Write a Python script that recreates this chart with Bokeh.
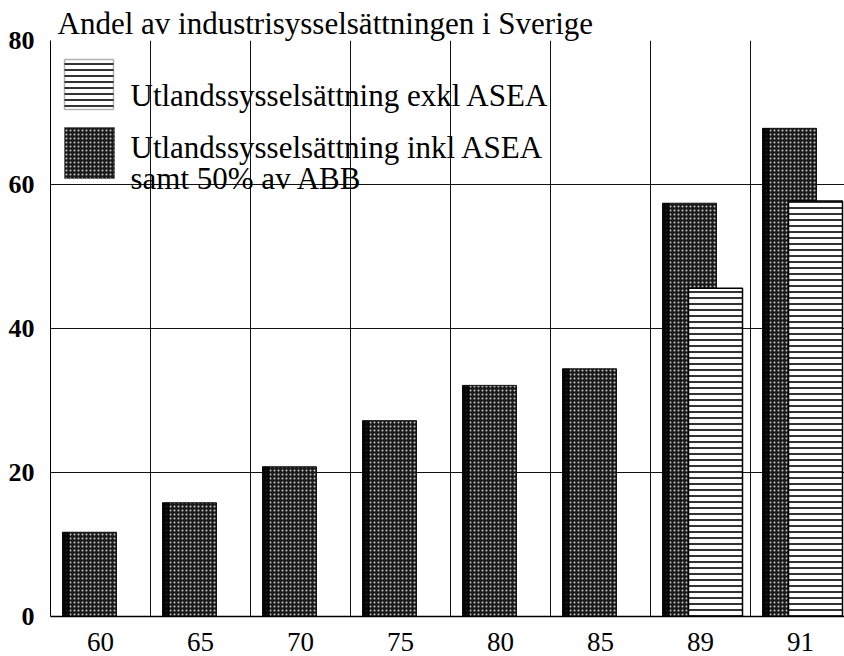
from bokeh.plotting import figure
from bokeh.models import ColumnDataSource, FixedTicker, Range1d, Label, BoxAnnotation
from bokeh.transform import dodge
from bokeh.embed import file_html
from bokeh.resources import INLINE

# ---- data ----
years = ["60", "65", "70", "75", "80", "85", "89", "91"]
inkl_asea = [11.7, 15.8, 20.8, 27.2, 32.1, 34.4, 57.4, 67.8]
exkl_years = ["89", "91"]
exkl_asea = [45.6, 57.7]
y_ticks = [0, 20, 40, 60, 80]

title_text = "Andel av industrisysselsättningen i Sverige"
label_exkl = "Utlandssysselsättning exkl ASEA"
label_inkl_1 = "Utlandssysselsättning inkl ASEA"
label_inkl_2 = "samt 50% av ABB"

# ---- layout / style ----
FONT = "Liberation Serif"
W, H = 844, 656
FRAME_H = 576

pos = {y: i + 0.5 for i, y in enumerate(years)}
src_inkl = ColumnDataSource(dict(x=[pos[y] for y in years], top=inkl_asea))
src_exkl = ColumnDataSource(dict(x=[pos[y] for y in exkl_years], top=exkl_asea))

p = figure(width=W, height=H, output_backend="svg", toolbar_location=None,
           x_range=Range1d(0, 7.94), y_range=Range1d(0, 80),
           min_border_left=50, min_border_right=0, min_border_top=40,
           min_border_bottom=40, title=title_text)
p.outline_line_color = None
p.background_fill_color = "white"

# title
p.title.text_font = FONT
p.title.text_font_size = "31px"
p.title.text_font_style = "normal"
p.title.text_color = "black"
p.title.align = "left"
p.title.offset = 7
p.title.standoff = 0

# dark bars (inkl ASEA)
p.vbar(x=dodge("x", -0.11), top="top", bottom=0, width=0.54, source=src_inkl,
       fill_color="#1a1a1a", line_color="#111111", line_width=1,
       hatch_pattern="dot", hatch_color="#c8c8c8", hatch_scale=4, hatch_weight=1)
# darker shading at left edge of the dark bars
p.vbar(x=dodge("x", -0.345), top="top", bottom=0, width=0.07, source=src_inkl,
       fill_color="black", fill_alpha=0.85, line_color=None)

# striped bars (exkl ASEA)
p.vbar(x=dodge("x", 0.15), top="top", bottom=0, width=0.54, source=src_exkl,
       fill_color="white", line_color="black", line_width=1.5,
       hatch_pattern="horizontal_line", hatch_color="black", hatch_scale=6,
       hatch_weight=1.6)

# axes
p.yaxis.ticker = FixedTicker(ticks=y_ticks)
p.yaxis.major_tick_line_color = None
p.yaxis.minor_tick_line_color = None
p.yaxis.axis_line_color = "black"
p.yaxis.axis_line_width = 1
p.yaxis.major_label_text_font = FONT
p.yaxis.major_label_text_font_style = "bold"
p.yaxis.major_label_text_font_size = "26px"
p.yaxis.major_label_text_color = "black"
p.yaxis.major_label_standoff = 10

p.xaxis.ticker = FixedTicker(ticks=[pos[y] for y in years])
p.xaxis.major_label_overrides = {pos[y]: y for y in years}
p.xaxis.major_tick_line_color = None
p.xaxis.minor_tick_line_color = None
p.xaxis.axis_line_color = "black"
p.xaxis.axis_line_width = 1.5
p.xaxis.major_label_text_font = FONT
p.xaxis.major_label_text_font_size = "27px"
p.xaxis.major_label_text_color = "black"
p.xaxis.major_label_standoff = 10

# grids
p.xgrid.ticker = FixedTicker(ticks=list(range(1, len(years))))
p.xgrid.grid_line_color = "#111111"
p.xgrid.grid_line_width = 1
p.ygrid.ticker = FixedTicker(ticks=[20, 40, 60, 80])
p.ygrid.grid_line_color = "#111111"
p.ygrid.grid_line_width = 1

# legend
p.add_layout(BoxAnnotation(left=14, right=63, bottom=FRAME_H - 69, top=FRAME_H - 19,
                           left_units="screen", right_units="screen",
                           bottom_units="screen", top_units="screen",
                           fill_color="white", fill_alpha=1, line_color="black",
                           line_width=1.5, hatch_pattern="horizontal_line",
                           hatch_color="black", hatch_scale=6, hatch_weight=1.6))
p.add_layout(BoxAnnotation(left=14, right=64, bottom=FRAME_H - 138, top=FRAME_H - 87,
                           left_units="screen", right_units="screen",
                           bottom_units="screen", top_units="screen",
                           fill_color="#1a1a1a", fill_alpha=1, line_color="#111111",
                           line_width=1, hatch_pattern="dot", hatch_color="#c8c8c8",
                           hatch_scale=4, hatch_weight=1))
for txt, yy in [(label_exkl, FRAME_H - 55), (label_inkl_1, FRAME_H - 107),
                (label_inkl_2, FRAME_H - 138)]:
    p.add_layout(Label(x=80, y=yy, x_units="screen", y_units="screen", text=txt,
                       text_font=FONT, text_font_size="31px", text_color="black",
                       text_baseline="alphabetic"))

open("out.html", "w").write(file_html(p, INLINE))
